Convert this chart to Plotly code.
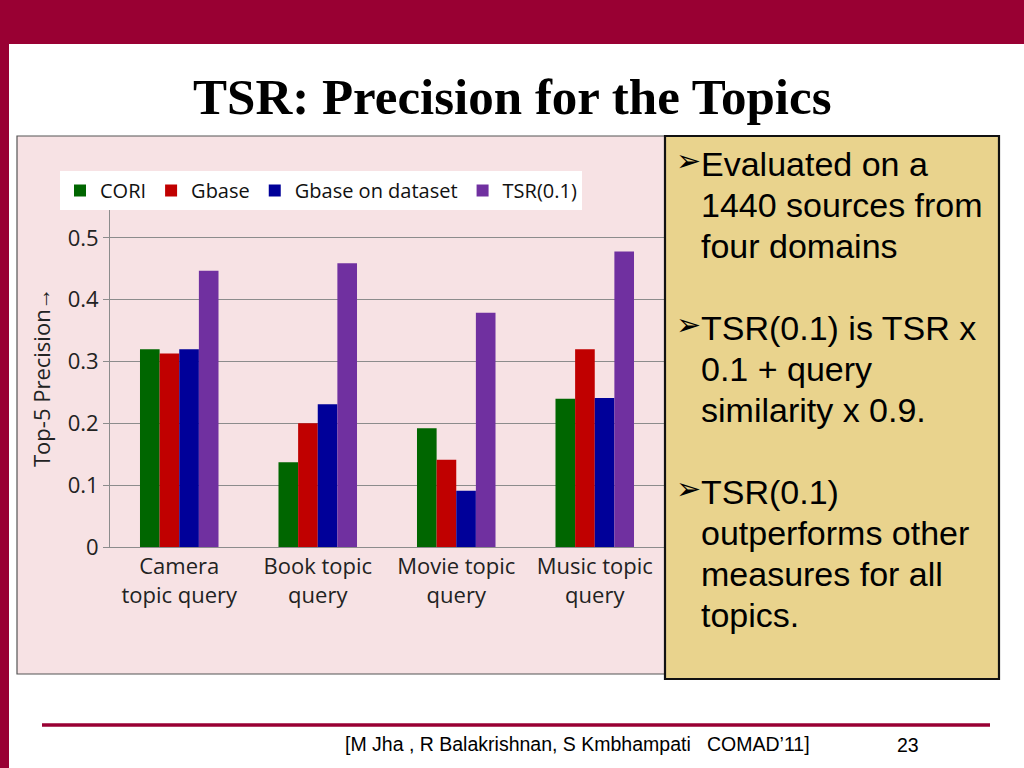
import plotly.graph_objects as go

# chart data
categories = ["Camera<br>topic query", "Book topic<br>query", "Movie topic<br>query", "Music topic<br>query"]
series_names = ["CORI", "Gbase", "Gbase on dataset", "TSR(0.1)"]
cori = [0.320, 0.137, 0.192, 0.240]
gbase = [0.313, 0.200, 0.141, 0.320]
gbase_dataset = [0.320, 0.231, 0.091, 0.241]
tsr = [0.447, 0.459, 0.379, 0.478]
y_ticks = [0, 0.1, 0.2, 0.3, 0.4, 0.5]
y_ticktext = ["0", "0.1", "0.2", "0.3", "0.4", "0.5"]

bullets = [
    ["Evaluated on a", "1440 sources from", "four domains"],
    ["TSR(0.1) is TSR x", "0.1 + query", "similarity x 0.9."],
    ["TSR(0.1)", "outperforms other", "measures for all", "topics."],
]

colors = ["#006600", "#c00000", "#000099", "#7030a0"]
maroon = "#990033"
W, H = 1024, 768


def px_x(x):
    return x / W


def px_y(y):
    return 1 - y / H


fig = go.Figure()
for name, vals, col in zip(series_names, [cori, gbase, gbase_dataset, tsr], colors):
    fig.add_trace(go.Bar(x=categories, y=vals, name=name, marker_color=col,
                         marker_line_width=0))

shapes = [
    # slide frame
    dict(type="rect", xref="paper", yref="paper", x0=0, x1=1, y0=px_y(44), y1=1,
         fillcolor=maroon, line_width=0, layer="below"),
    dict(type="rect", xref="paper", yref="paper", x0=0, x1=px_x(9), y0=0, y1=1,
         fillcolor=maroon, line_width=0, layer="below"),
    # chart background box
    dict(type="rect", xref="paper", yref="paper", x0=px_x(17), x1=px_x(666), y0=px_y(674), y1=px_y(136),
         fillcolor="#f7e2e4", line=dict(color="#555555", width=1.2), layer="below"),
    # text box
    dict(type="rect", xref="paper", yref="paper", x0=px_x(665), x1=px_x(999), y0=px_y(679), y1=px_y(136),
         fillcolor="#e9d38d", line=dict(color="#111111", width=2.2), layer="above"),
    # footer line
    dict(type="line", xref="paper", yref="paper", x0=px_x(42), x1=px_x(990), y0=px_y(725), y1=px_y(725),
         line=dict(color=maroon, width=3.5)),
]

annotations = [
    dict(text="<b>TSR: Precision for the Topics</b>", x=px_x(512), y=px_y(97), xref="paper", yref="paper",
         showarrow=False, xanchor="center", yanchor="middle",
         font=dict(family="Liberation Serif", size=51, color="black")),
    dict(text="Top-5 Precision\u2192", x=px_x(41), y=px_y(377), xref="paper", yref="paper",
         showarrow=False, textangle=-90, xanchor="center", yanchor="middle",
         font=dict(family="Open Sans", size=22, color="#222222")),
    dict(text="[M Jha , R Balakrishnan, S Kmbhampati   COMAD\u201911]", x=px_x(343), y=px_y(744),
         xref="paper", yref="paper", showarrow=False, xanchor="left", yanchor="middle",
         font=dict(family="Liberation Sans", size=19.5, color="black")),
    dict(text="23", x=px_x(908), y=px_y(745), xref="paper", yref="paper", showarrow=False,
         xanchor="center", yanchor="middle",
         font=dict(family="Liberation Sans", size=19.5, color="black")),
]

line_y = 164
for block in bullets:
    for i, line in enumerate(block):
        if i == 0:
            annotations.append(dict(text="<b>\u27a2</b>", x=px_x(674), y=px_y(line_y - 4), xref="paper",
                                    yref="paper", showarrow=False, xanchor="left", yanchor="middle",
                                    font=dict(family="DejaVu Sans", size=30, color="black")))
        annotations.append(dict(text=line, x=px_x(699), y=px_y(line_y), xref="paper", yref="paper",
                                showarrow=False, xanchor="left", yanchor="middle",
                                font=dict(family="Liberation Sans", size=34, color="black")))
        line_y += 41
    line_y += 41

fig.update_layout(
    width=W, height=H,
    autosize=False,
    margin=dict(l=0, r=0, t=0, b=0, pad=0, autoexpand=False),
    paper_bgcolor="white",
    plot_bgcolor="rgba(0,0,0,0)",
    barmode="group",
    bargap=0.433,
    bargroupgap=0,
    font=dict(family="Open Sans", size=22, color="#222222"),
    xaxis=dict(domain=[px_x(110), px_x(664)], showline=True, linecolor="#8c8c8c", linewidth=1,
               showgrid=False, ticks="", automargin=False, tickfont=dict(size=22, family="Open Sans")),
    yaxis=dict(domain=[px_y(547), px_y(207)], range=[0, 0.55], tickvals=y_ticks, ticktext=y_ticktext,
               showline=True, linecolor="#8c8c8c", linewidth=1, gridcolor="#8c8c8c", gridwidth=1,
               ticks="outside", ticklen=6, tickcolor="#8c8c8c", zeroline=False, automargin=False,
               tickfont=dict(size=22, family="Open Sans")),
    legend=dict(orientation="h", x=px_x(60), y=px_y(171), xanchor="left", yanchor="top",
                bgcolor="white", font=dict(size=20, family="Open Sans", color="#111111"),
                itemwidth=30, tracegroupgap=0),
    shapes=shapes,
    annotations=annotations,
    showlegend=True,
)

# page margin/scroll off so the slide fills the window exactly
fig.write_html(
    "out.html",
    config={"displayModeBar": False, "responsive": False},
    post_script=("document.documentElement.style.overflow='hidden';"
                 "document.body.style.margin='0';"
                 "document.body.style.overflow='hidden';"),
)
